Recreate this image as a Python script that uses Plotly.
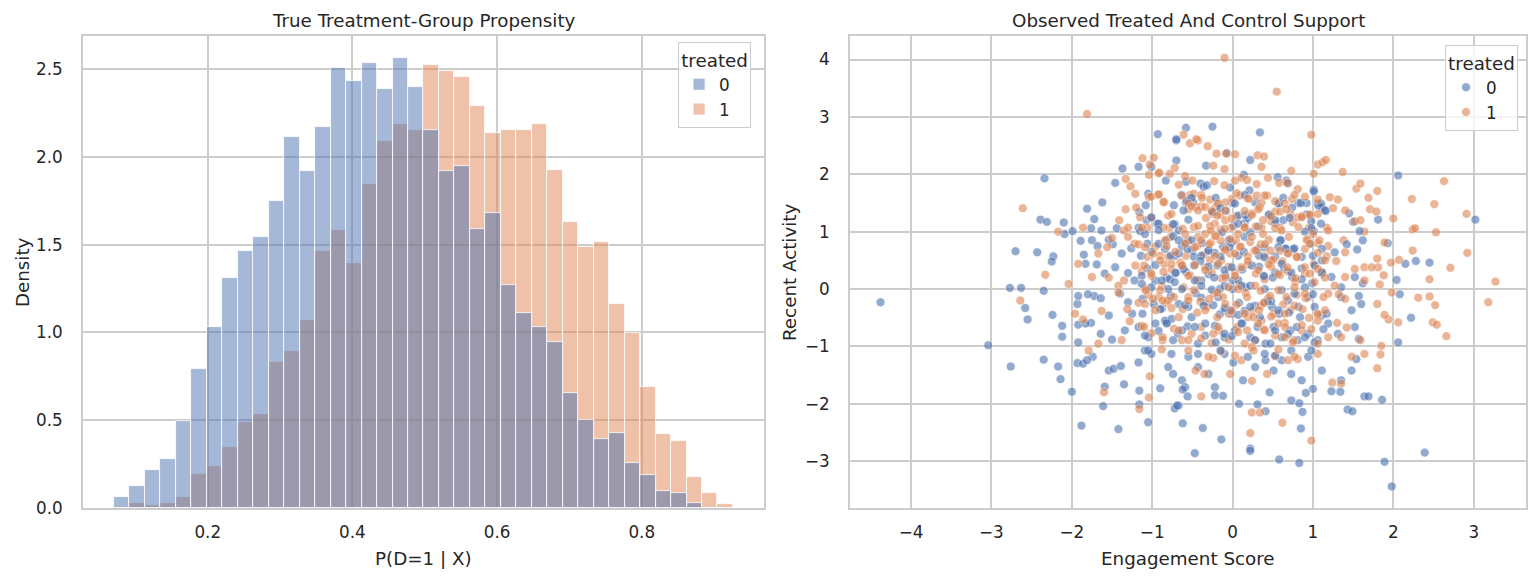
import numpy as np
import plotly.graph_objects as go

# histogram: 40 shared bins, density per bin
bin_lo, bin_hi, n_bins = 0.0704, 0.926, 40
dens_control = [0.061, 0.128, 0.219, 0.277, 0.496, 0.792, 1.029, 1.313, 1.462, 1.542,
                1.748, 2.115, 1.920, 2.172, 2.504, 2.435, 2.538, 2.389, 2.561, 2.401,
                2.155, 1.922, 1.947, 1.592, 1.683, 1.271, 1.111, 1.031, 0.945, 0.658,
                0.500, 0.395, 0.429, 0.258, 0.189, 0.095, 0.086, 0.029, 0.0, 0.0]
dens_treated = [0.0, 0.027, 0.015, 0.027, 0.061, 0.193, 0.242, 0.347, 0.490, 0.534,
                0.834, 0.895, 1.073, 1.464, 1.582, 1.395, 1.845, 2.092, 2.189, 2.156,
                2.523, 2.487, 2.458, 2.292, 2.137, 2.155, 2.155, 2.189, 1.926, 1.628,
                1.487, 1.513, 1.164, 0.998, 0.689, 0.420, 0.380, 0.179, 0.088, 0.025]

# scatter: (engagement score, recent activity), treated = 0
control_pts = [
    (-0.70, 2.59), (-0.07, 2.37), (0.22, 2.25), (-0.33, 2.15), (-0.70, 2.24), (-1.37, 2.10), (-1.17, 2.13),
    (-1.01, 2.13), (0.14, 1.99), (-1.46, 1.85), (-0.83, 1.89), (-0.58, 1.87), (-0.40, 1.84), (-0.36, 1.78),
    (-0.32, 1.81), (-0.03, 1.77), (0.21, 1.72), (0.00, 1.50), (0.28, 1.51), (0.56, 1.95), (0.67, 1.89),
    (0.69, 1.84), (1.01, 1.73), (0.82, 1.50), (0.92, 1.50), (1.06, 1.49), (1.11, 1.42), (0.58, 1.50),
    (-1.05, 1.66), (-0.64, 1.64), (-0.58, 1.51), (-0.49, 1.51), (-1.62, 1.51), (-0.73, 1.46),
    (-1.72, 1.22), (-1.76, 1.06), (-1.63, 1.02), (-1.44, 1.06), (-1.16, 1.34), (-1.07, 1.20), (-0.94, 1.14),
    (-0.72, 1.13), (-0.67, 1.02), (-0.55, 1.21), (-0.23, 1.34), (-0.08, 1.36), (0.01, 1.10), (0.15, 1.15),
    (0.19, 1.24), (0.32, 1.09), (0.46, 1.30), (0.53, 1.15), (0.63, 1.20), (0.74, 1.42), (0.92, 1.30),
    (1.01, 1.01), (1.07, 1.45), (1.16, 1.36), (1.45, 1.32), (1.50, 1.17), (1.62, 0.85), (-1.17, 1.07),
    (-1.49, 0.78), (-1.75, 0.85), (-1.68, 0.75), (-1.54, 0.86), (-1.38, 0.62), (-1.26, 0.71), (-1.14, 0.58),
    (-1.06, 0.79), (-0.84, 0.70), (-0.72, 0.58), (-0.63, 0.75), (-0.50, 0.67), (-0.38, 0.80), (-0.30, 0.67),
    (-0.22, 0.63), (-0.12, 0.74), (-0.01, 0.81), (0.15, 0.91), (0.32, 0.70), (0.40, 0.73), (0.53, 0.57),
    (0.59, 0.85), (0.66, 0.71), (0.77, 0.71), (0.86, 0.56), (0.97, 0.79), (1.11, 0.50), (1.27, 0.64),
    (1.42, 0.78), (1.55, 0.69), (-0.05, 0.85), (-0.59, 0.82), (-0.82, 0.85),
    (-1.69, 0.43), (-1.59, 0.27), (-1.46, 0.38), (-1.30, 0.28), (-1.22, 0.15), (-1.06, 0.36), (-0.96, 0.15),
    (-0.82, 0.20), (-0.71, 0.29), (-0.58, 0.30), (-0.48, 0.41), (-0.39, 0.15), (-0.30, 0.26), (-0.19, 0.41),
    (-0.09, 0.24), (0.00, 0.15), (0.12, 0.34), (0.16, 0.03), (0.33, 0.39), (0.39, 0.21), (0.53, 0.29),
    (0.64, 0.35), (0.74, 0.21), (0.86, 0.36), (0.99, 0.10), (1.11, 0.27), (1.23, 0.21), (1.35, 0.03),
    (1.52, 0.21), (1.62, 0.10),
    (-1.72, -0.12), (-1.64, -0.16), (-1.54, -0.46), (-1.40, -0.08), (-1.30, -0.23), (-1.25, -0.43),
    (-1.12, -0.17), (-0.98, -0.26), (-0.88, -0.34), (-0.77, -0.12), (-0.67, -0.26), (-0.55, -0.31),
    (-0.46, -0.07), (-0.39, -0.15), (-0.34, -0.26), (-0.18, -0.14), (-0.09, -0.36), (-0.01, -0.43),
    (0.08, -0.24), (0.15, -0.38), (0.28, -0.29), (0.40, -0.23), (0.49, -0.31), (0.58, -0.43), (0.69, -0.20),
    (0.82, -0.31), (0.94, -0.14), (1.11, -0.46), (1.17, -0.43), (1.35, -0.14), (1.48, -0.37), (1.60, -0.26),
    (1.57, -0.12),
    (-1.76, -0.59), (-1.64, -0.78), (-1.50, -0.88), (-1.34, -0.72), (-1.17, -0.66), (-1.05, -0.84),
    (-0.92, -0.73), (-0.82, -0.58), (-0.68, -0.78), (-0.56, -0.65), (-0.43, -0.95), (-0.34, -0.81),
    (-0.22, -0.64), (-0.10, -0.84), (0.03, -0.72), (0.12, -0.60), (0.22, -0.84), (0.31, -0.66), (0.41, -0.95),
    (0.51, -0.66), (0.61, -0.84), (0.72, -0.72), (0.81, -0.89), (0.94, -0.78), (1.06, -0.89), (1.19, -0.60),
    (1.31, -0.78), (1.52, -0.66), (1.57, -0.87),
    (-1.74, -1.18), (-1.54, -1.42), (-1.48, -1.39), (-1.39, -1.34), (-1.17, -1.28), (-1.09, -1.07),
    (-1.01, -1.13), (-0.80, -1.36), (-0.74, -1.48), (-0.63, -1.59), (-0.59, -1.71), (-0.55, -1.18),
    (-0.43, -1.36), (-0.30, -1.48), (-0.22, -1.71), (-0.10, -1.13), (0.01, -1.28), (0.13, -1.59),
    (0.28, -1.36), (0.41, -1.24), (0.51, -1.42), (0.61, -1.24), (0.73, -1.48), (0.86, -1.59), (0.94, -1.18),
    (1.11, -1.42), (1.35, -1.59), (1.48, -1.42), (1.54, -1.22),
    (-0.93, 2.70), (-0.70, 2.61), (-0.58, 2.81), (-2.34, 1.93), (-2.39, 1.21), (-2.31, 1.17), (-2.10, 1.16),
    (-2.09, 0.96), (-1.99, 1.01), (-2.70, 0.66), (-2.43, 0.64), (-2.23, 0.57), (-2.25, 0.48), (-1.89, 0.84),
    (-1.85, 0.60), (-1.81, 1.40), (-1.83, 0.44),
    (-0.25, 2.83), (0.34, 2.73), (2.06, 1.98), (3.02, 1.21), (1.81, 1.21), (1.58, 1.01), (1.93, 0.80),
    (2.15, 0.44), (2.28, 0.49), (2.45, 0.46),
    (2.06, -0.93), (2.22, -0.50), (2.08, -0.09), (2.04, 0.16), (1.86, -1.93), (1.64, -1.87), (1.69, -1.87),
    (1.43, -2.10), (1.49, -2.13), (2.39, -2.85), (1.89, -3.01), (1.98, -3.44), (0.58, -2.97), (0.83, -3.03),
    (0.22, -2.78), (0.22, -2.82), (-0.47, -2.86), (-0.14, -2.62), (-0.37, -2.42), (-0.62, -2.34),
    (0.85, -2.43), (0.87, -2.14), (0.83, -1.99), (0.41, -2.13), (0.08, -2.00), (0.31, -2.01), (-0.67, -2.03),
    (-0.56, -1.87), (1.00, -1.74), (0.91, -1.81), (0.73, -1.94), (1.34, -1.79), (1.23, -1.78),
    (-0.12, -1.86), (-0.22, -1.85), (0.46, -1.80),
    (-4.38, -0.23), (-3.04, -0.98), (-2.77, 0.02), (-2.63, 0.02), (-2.35, -0.03), (-2.58, -0.33),
    (-2.55, -0.53), (-2.24, -0.45), (-2.12, -0.64), (-2.12, -0.83), (-2.76, -1.35), (-2.35, -1.23),
    (-2.17, -1.35), (-2.14, -1.57), (-2.00, -1.79), (-1.93, -1.29), (-1.86, -1.30), (-1.81, -1.24),
    (-1.92, -0.93), (-1.92, -0.62), (-1.83, -0.60), (-1.93, -0.26), (-1.92, -0.12), (-1.80, -0.09),
    (-1.88, -2.38), (-1.42, -2.44), (-1.61, -2.04), (-1.59, -1.70), (-1.35, -1.66), (-1.16, -1.77),
    (-1.16, -2.01), (-1.05, -2.32), (-0.90, -1.73), (-0.72, -2.08), (-0.69, -2.03), (-0.62, -1.75),
]

# extra control points in the crowded middle of the cloud
control_core = [
    (-0.57, 1.54), (-0.51, 1.59), (-0.21, 1.59), (0.03, 1.49), (0.15, 1.64), (0.57, 1.49), (0.63, 1.59),
    (0.85, 1.50), (1.01, 1.70), (1.10, 1.49), (-1.08, 1.46), (-1.01, 1.25), (-0.92, 1.14), (-0.74, 1.13),
    (-0.61, 1.37), (-0.25, 1.34), (-0.15, 1.41), (0.07, 1.28), (0.16, 1.29), (0.45, 1.29), (0.53, 1.20),
    (0.71, 1.24), (0.98, 1.18), (1.10, 1.14), (1.15, 1.37), (-1.15, 1.01), (-1.09, 0.96), (-0.92, 1.03),
    (-0.74, 0.92), (-0.67, 0.85), (-0.51, 0.85), (-0.13, 0.99), (0.07, 1.14), (0.22, 0.99), (0.60, 0.85),
    (0.76, 0.70), (0.90, 1.00), (0.98, 1.06), (-1.01, 0.65), (-0.92, 0.79), (-0.77, 0.58), (-0.67, 0.62),
    (-0.56, 0.70), (-0.48, 0.56), (-0.39, 0.58), (-0.30, 0.67), (-0.15, 0.56), (-0.04, 0.73), (0.07, 0.58),
    (0.14, 0.65), (0.33, 0.58), (0.40, 0.55), (0.57, 0.73), (0.66, 0.70), (1.00, 0.58), (1.11, 0.70),
    (-1.13, 0.23), (-0.96, 0.42), (-0.88, 0.15), (-0.78, 0.17), (-0.71, 0.28), (-0.61, 0.35), (-0.40, 0.49),
    (-0.30, 0.39), (-0.23, 0.20), (-0.10, 0.33), (-0.01, 0.38), (0.07, 0.16), (0.24, 0.41), (0.39, 0.23),
    (0.50, 0.20), (0.61, 0.44), (0.73, 0.29), (0.86, 0.17), (1.02, 0.41), (1.11, 0.29),
    (-1.13, 0.09), (-1.01, 0.03), (-0.80, 0.00), (-0.72, 0.12), (-0.63, 0.00), (-0.47, 0.15), (-0.39, 0.06),
    (-0.26, -0.01), (-0.16, 0.00), (-0.10, 0.06), (0.00, 0.00), (0.11, 0.06), (0.22, 0.06), (0.40, 0.00),
    (0.48, -0.21), (0.61, -0.02), (0.77, -0.08), (0.90, 0.03), (1.00, -0.09),
    (-1.12, -0.43), (-0.90, -0.35), (-0.84, -0.55), (-0.76, -0.52), (-0.59, -0.28), (-0.51, -0.49),
    (-0.36, -0.29), (-0.24, -0.28), (-0.16, -0.44), (-0.10, -0.33), (-0.03, -0.37), (0.07, -0.45),
    (0.22, -0.31), (0.34, -0.49), (0.44, -0.21), (0.57, -0.37), (0.70, -0.41), (0.84, -0.49), (1.02, -0.31),
    (-1.09, -0.81), (-0.96, -0.60), (-0.82, -0.60), (-0.74, -0.89), (-0.63, -0.72), (-0.47, -0.66),
    (-0.34, -0.60), (-0.21, -0.93), (-0.10, -0.78), (-0.01, -0.82), (0.11, -0.60), (0.28, -0.89),
    (0.47, -0.95), (0.53, -0.72), (0.69, -0.78), (0.80, -0.66), (0.90, -0.84), (1.02, -0.93), (1.13, -0.70),
    (-1.05, -1.07), (-0.76, -1.13), (-0.43, -1.13), (-0.15, -1.07), (0.19, -1.18), (0.40, -1.13),
    (0.53, -1.16), (0.73, -1.07), (0.98, -1.07),
]

# treated = 1
treated_pts = [
    (-0.53, 2.54), (-0.43, 2.59), (-0.31, 2.49), (-0.20, 2.36), (-0.08, 2.36), (0.03, 2.35), (0.31, 2.33),
    (0.39, 2.31), (0.36, 2.13), (1.06, 2.17), (1.12, 2.21), (1.16, 2.25), (1.37, 2.04), (-0.98, 2.29),
    (-1.12, 2.28), (-1.03, 2.17), (-0.91, 2.03), (-0.72, 2.11), (-0.24, 2.15), (-0.10, 2.09),
    (-1.33, 1.92), (-1.27, 1.79), (-1.21, 1.66), (-1.04, 1.99), (-0.92, 2.02), (-0.78, 2.01), (-0.67, 1.82),
    (-0.59, 1.97), (-0.50, 1.89), (-0.23, 1.88), (-0.10, 1.81), (0.03, 1.89), (0.11, 1.94), (0.18, 1.90),
    (0.30, 1.83), (0.44, 1.94), (0.58, 1.85), (0.68, 1.85), (0.73, 2.06), (0.81, 1.74), (1.01, 2.01),
    (1.21, 1.60), (1.31, 1.56), (1.54, 1.75), (-1.04, 1.60), (-0.92, 1.65), (-0.85, 1.51), (-0.53, 1.64),
    (-0.48, 1.66), (-0.39, 1.64), (-0.28, 1.56), (-0.18, 1.50), (-0.01, 1.57), (0.09, 1.63), (0.21, 1.57),
    (0.36, 1.51), (0.43, 1.63), (0.74, 1.57),
    (-1.41, 1.20), (-1.33, 1.39), (-1.35, 1.02), (-1.20, 1.42), (-1.01, 1.24), (-0.80, 1.28), (-0.78, 1.07),
    (-0.55, 1.39), (-0.46, 1.43), (-0.39, 1.44), (-0.33, 1.24), (-0.25, 1.31), (-0.21, 1.43), (-0.15, 1.30),
    (-0.22, 1.14), (-0.09, 1.20), (0.05, 1.27), (0.24, 1.32), (0.34, 1.43), (0.48, 1.18), (0.53, 1.35),
    (0.59, 1.07), (0.72, 1.30), (0.75, 1.16), (0.81, 1.25), (0.86, 1.27), (0.97, 1.28), (1.25, 1.41),
    (1.40, 1.37), (1.52, 1.18), (1.64, 1.00), (1.38, 0.85), (1.17, 1.07), (0.95, 1.07), (0.36, 1.07),
    (0.15, 1.08), (-0.02, 1.07), (-0.15, 1.03), (-0.28, 1.10), (-0.48, 1.08), (-0.62, 1.05), (-0.86, 1.07),
    (-1.06, 1.07), (-1.30, 1.07), (-1.50, 0.89), (-1.15, 1.25),
    (-1.67, 0.62), (-1.56, 0.73), (-1.30, 0.91), (-1.22, 0.79), (-0.96, 0.74), (-0.90, 0.58), (-0.77, 0.91),
    (-0.65, 0.46), (-0.55, 0.85), (-0.44, 0.75), (-0.36, 0.60), (-0.27, 0.81), (-0.22, 0.94), (-0.15, 0.85),
    (-0.10, 0.67), (-0.03, 0.62), (0.04, 0.85), (0.09, 0.73), (0.22, 0.82), (0.27, 0.67), (0.35, 0.78),
    (0.39, 0.58), (0.47, 0.67), (0.51, 0.51), (0.62, 0.48), (0.69, 0.63), (0.80, 0.56), (0.94, 0.85),
    (1.06, 0.80), (1.19, 0.75), (1.17, 0.57), (1.29, 0.49), (1.40, 0.64), (1.52, 0.35), (1.64, 0.38),
    (-0.14, 0.50), (-0.28, 0.51), (-0.43, 0.91), (-0.58, 0.58), (-0.80, 0.56), (-1.06, 0.56), (-1.17, 0.78),
    (-1.75, 0.21), (-1.54, 0.20), (-1.35, 0.15), (-1.21, 0.41), (-1.13, 0.31), (-1.01, 0.23), (-0.85, 0.43),
    (-0.76, 0.34), (-0.63, 0.41), (-0.53, 0.24), (-0.44, 0.16), (-0.34, 0.38), (-0.26, 0.29), (-0.14, 0.19),
    (-0.05, 0.39), (0.03, 0.29), (0.08, 0.08), (0.19, 0.43), (0.29, 0.27), (0.40, 0.17), (0.48, 0.39),
    (0.59, 0.24), (0.69, 0.31), (0.78, 0.13), (0.90, 0.27), (1.01, 0.44), (1.11, 0.29), (1.27, 0.06),
    (1.40, 0.21), (1.64, 0.15), (-0.61, 0.03), (-0.88, 0.06), (-1.09, 0.01), (-1.42, 0.06),
    (-1.63, -0.38), (-1.42, -0.06), (-1.31, -0.35), (-1.17, -0.24), (-1.05, -0.10), (-0.92, -0.14),
    (-0.83, -0.24), (-0.73, -0.14), (-0.62, -0.35), (-0.55, -0.14), (-0.40, -0.22), (-0.32, -0.31),
    (-0.23, -0.08), (-0.12, -0.14), (-0.05, -0.43), (0.05, -0.27), (0.16, -0.06), (0.24, -0.38),
    (0.35, -0.29), (0.44, -0.16), (0.51, -0.43), (0.63, -0.27), (0.72, -0.37), (0.80, -0.10), (0.91, -0.16),
    (1.06, -0.45), (1.19, -0.08), (1.32, -0.09), (1.40, -0.17), (1.30, -0.59), (1.42, -0.67), (0.19, -0.49),
    (0.36, -0.55), (0.65, -0.59),
    (-1.67, -0.95), (-1.38, -0.89), (-1.28, -0.56), (-1.13, -0.64), (-1.01, -0.77), (-0.87, -0.89),
    (-0.73, -0.69), (-0.63, -0.89), (-0.51, -0.78), (-0.39, -0.66), (-0.26, -0.94), (-0.17, -0.72),
    (-0.05, -0.88), (0.06, -0.66), (0.15, -0.95), (0.28, -0.89), (0.39, -0.70), (0.53, -0.81), (0.65, -0.66),
    (0.76, -0.89), (0.86, -0.72), (1.06, -0.55), (1.19, -0.84), (1.35, -0.84), (1.59, -0.89),
    (-1.79, -1.07), (-1.03, -1.52), (-0.46, -1.42), (-0.35, -1.48), (-0.24, -1.20), (-0.14, -1.09),
    (-0.03, -1.48), (0.11, -1.24), (0.24, -1.60), (0.43, -1.48), (0.53, -1.17), (0.69, -1.24), (0.81, -1.22),
    (1.06, -1.13), (1.24, -1.63), (1.35, -1.65), (1.48, -1.18), (1.64, -1.13),
    (-1.81, 3.05), (-2.61, 1.41), (-2.17, 1.00), (-1.86, 1.07), (-0.61, 2.69), (-1.92, 0.44),
    (-0.10, 4.03), (0.55, 3.44), (-0.45, 2.61), (0.98, 2.69), (1.59, 1.84), (1.80, 1.71), (2.63, 1.88),
    (2.23, 1.57), (2.51, 1.48), (2.91, 1.31), (1.69, 1.59), (1.71, 1.39), (1.79, 1.35), (2.00, 1.23),
    (2.24, 1.04), (2.27, 1.06), (2.53, 0.99), (1.89, 0.81), (1.80, 0.53), (1.97, 0.46), (2.07, 0.51),
    (2.24, 0.67), (2.92, 0.63), (2.71, 0.37), (1.59, 1.20),
    (3.27, 0.13), (3.18, -0.23), (2.45, 0.17), (2.31, -0.15), (2.45, -0.13), (2.52, -0.28), (2.49, -0.58),
    (2.54, -0.62), (2.66, -0.82), (1.98, -0.06), (2.06, -0.58), (1.94, -0.53), (1.89, -0.45), (1.80, -0.26),
    (1.83, 0.08), (1.88, 0.24), (1.81, 0.38), (1.73, 0.38), (1.85, -0.99), (1.84, -1.14), (1.80, -1.38),
    (0.24, -2.15), (0.34, -2.15), (0.22, -2.51), (0.62, -2.33), (0.98, -2.64), (-0.39, -1.87),
    (-2.33, 0.25), (-2.04, 0.09), (-2.64, -0.20), (-1.60, -1.80), (-1.16, -2.09), (-1.04, -1.89),
    (-1.96, -0.43), (-1.86, -0.53),
]

# extra treated points in the crowded middle of the cloud
treated_core = [
    (-1.01, 1.61), (-0.92, 1.65), (-0.86, 1.52), (-0.63, 1.63), (-0.55, 1.49), (-0.38, 1.59), (-0.18, 1.49),
    (-0.09, 1.51), (0.05, 1.67), (0.19, 1.58), (0.30, 1.63), (0.40, 1.63), (0.53, 1.53), (0.65, 1.49),
    (0.77, 1.64), (0.90, 1.61), (1.06, 1.56), (-0.76, 1.31), (-0.51, 1.44), (-0.43, 1.37), (-0.34, 1.43),
    (-0.26, 1.36), (-0.19, 1.28), (-0.09, 1.37), (-0.01, 1.23), (0.15, 1.36), (0.24, 1.29), (0.32, 1.39),
    (0.38, 1.20), (0.48, 1.27), (0.59, 1.35), (0.67, 1.39), (0.86, 1.25), (0.96, 1.30), (1.06, 1.31),
    (-1.13, 1.07), (-0.84, 0.85), (-0.59, 0.96), (-0.43, 1.10), (-0.34, 0.96), (-0.27, 1.02), (-0.21, 0.92),
    (-0.10, 1.05), (-0.03, 0.87), (0.07, 0.96), (0.15, 1.07), (0.24, 0.91), (0.29, 1.09), (0.38, 0.96),
    (0.45, 0.86), (0.53, 1.06), (0.61, 1.02), (0.70, 0.91), (0.82, 1.08), (0.92, 0.86), (1.00, 0.96),
    (1.08, 0.85), (1.19, 1.02),
    (-1.09, 0.73), (-0.99, 0.62), (-0.90, 0.50), (-0.82, 0.75), (-0.71, 0.65), (-0.59, 0.79), (-0.47, 0.73),
    (-0.39, 0.85), (-0.29, 0.78), (-0.22, 0.58), (-0.09, 0.69), (0.03, 0.62), (0.10, 0.74), (0.19, 0.57),
    (0.29, 0.67), (0.40, 0.78), (0.48, 0.50), (0.59, 0.67), (0.69, 0.62), (0.80, 0.56), (0.90, 0.70),
    (0.96, 0.79), (1.06, 0.63), (1.15, 0.50),
    (-1.10, 0.41), (-1.01, 0.27), (-0.86, 0.30), (-0.76, 0.44), (-0.63, 0.41), (-0.55, 0.23), (-0.47, 0.42),
    (-0.34, 0.33), (-0.18, 0.44), (-0.09, 0.20), (0.03, 0.23), (0.11, 0.38), (0.19, 0.49), (0.32, 0.33),
    (0.45, 0.43), (0.57, 0.26), (0.68, 0.38), (0.78, 0.19), (0.90, 0.38), (0.96, 0.27), (1.06, 0.35),
    (1.15, 0.20),
    (-1.08, -0.02), (-0.99, -0.17), (-0.90, -0.02), (-0.80, -0.20), (-0.55, -0.20), (-0.48, -0.02),
    (-0.29, -0.17), (-0.19, -0.06), (-0.05, 0.03), (0.07, 0.00), (0.18, -0.14), (0.28, 0.06), (0.35, -0.03),
    (0.47, -0.12), (0.57, -0.02), (0.67, -0.14), (0.77, 0.03), (0.90, -0.08), (1.02, 0.12), (1.13, -0.14),
    (-1.09, -0.26), (-0.96, -0.37), (-0.87, -0.20), (-0.76, -0.33), (-0.67, -0.49), (-0.44, -0.41),
    (-0.34, -0.37), (-0.19, -0.49), (-0.09, -0.26), (-0.01, -0.38), (0.15, -0.43), (0.26, -0.49),
    (0.33, -0.37), (0.39, -0.24), (0.48, -0.48), (0.65, -0.43), (0.77, -0.29), (0.87, -0.35), (0.95, -0.50),
    (1.06, -0.43), (1.15, -0.37),
    (-1.10, -0.66), (-0.87, -0.84), (-0.67, -0.72), (-0.55, -0.89), (-0.39, -0.86), (-0.24, -0.78),
    (-0.18, -0.66), (0.07, -0.75), (0.18, -0.72), (0.24, -1.01), (0.32, -0.60), (0.40, -0.72), (0.57, -0.60),
    (0.65, -0.84), (0.75, -0.93), (0.86, -0.63), (0.98, -0.70), (1.06, -0.95),
    (-0.88, -1.05), (-0.55, -1.07), (-0.30, -1.18), (0.03, -1.16), (0.26, -1.07), (0.57, -1.05), (0.77, -1.18),
]

hist_ticks = [0.2, 0.4, 0.6, 0.8]
dens_ticks = [0.0, 0.5, 1.0, 1.5, 2.0, 2.5]
eng_ticks = [-4, -3, -2, -1, 0, 1, 2, 3]
act_ticks = [-3, -2, -1, 0, 1, 2, 3, 4]

BLUE = (76, 114, 176)
ORANGE = (221, 132, 82)
TXT = '#262626'
GRID = '#cccccc'
FONT = 'DejaVu Sans'


def rgba(c, a):
    return 'rgba(%d,%d,%d,%s)' % (c[0], c[1], c[2], a)


def minus(v):
    return str(v).replace('-', '\u2212')


edges = np.linspace(bin_lo, bin_hi, n_bins + 1)
centers = (edges[:-1] + edges[1:]) / 2
bw = edges[1] - edges[0]

fig = go.Figure()

# treated drawn first so the control layer sits on top (seaborn order)
fig.add_trace(go.Bar(x=centers, y=dens_treated, width=bw, name='1', legendrank=2,
                     marker=dict(color=rgba(ORANGE, 0.5), line=dict(color='white', width=0.8)),
                     xaxis='x', yaxis='y', legend='legend'))
fig.add_trace(go.Bar(x=centers, y=dens_control, width=bw, name='0', legendrank=1,
                     marker=dict(color=rgba(BLUE, 0.5), line=dict(color='white', width=0.8)),
                     xaxis='x', yaxis='y', legend='legend'))

# mix the two groups so neither is always drawn on top
grp0 = control_pts + control_core
grp1 = treated_pts + treated_core
sx, sy, sc = [], [], []
for i in range(max(len(grp0), len(grp1))):
    if i < len(grp0):
        sx.append(grp0[i][0]); sy.append(grp0[i][1]); sc.append(rgba(BLUE, 1))
    if i < len(grp1):
        sx.append(grp1[i][0]); sy.append(grp1[i][1]); sc.append(rgba(ORANGE, 1))

fig.add_trace(go.Scatter(x=sx, y=sy, mode='markers', showlegend=False, xaxis='x2', yaxis='y2',
                         marker=dict(size=9, color=sc, opacity=0.6, line=dict(color='white', width=0.7))))
for nm, col in [('0', BLUE), ('1', ORANGE)]:
    fig.add_trace(go.Scatter(x=[None], y=[None], mode='markers', name=nm, xaxis='x2', yaxis='y2',
                             legend='legend2',
                             marker=dict(size=9, color=rgba(col, 1), opacity=0.6,
                                         line=dict(color='white', width=0.7))))

L, R, T, B = 83, 12, 36, 72
W, H = 1540 - L - R, 580 - T - B


def fx(px):
    return (px - L) / W


def fy(py):
    return (580 - B - py) / H


ax = dict(showgrid=True, gridcolor=GRID, gridwidth=1.5, zeroline=False, showline=True, mirror=True,
          linecolor=GRID, linewidth=1.9, ticks='outside', tickcolor='rgba(0,0,0,0)',
          tickfont=dict(size=16.8, color=TXT, family=FONT))

leg = dict(xanchor='right', yanchor='top', bgcolor='rgba(255,255,255,0.8)',
           bordercolor=GRID, borderwidth=1, font=dict(size=16.8, color=TXT, family=FONT),
           title=dict(text='treated', side='top center', font=dict(size=18.3, color=TXT, family=FONT)))

fig.update_layout(
    width=1540, height=580, margin=dict(l=L, r=R, t=T, b=B),
    paper_bgcolor='white', plot_bgcolor='white', barmode='overlay', bargap=0,
    font=dict(family=FONT, color=TXT, size=16.8),
    xaxis=dict(ax, ticklen=8, domain=[0, fx(765)], range=[0.0276, 0.969], tickvals=hist_ticks,
               ticktext=['%.1f' % v for v in hist_ticks], anchor='y'),
    yaxis=dict(ax, ticklen=15, range=[0, 2.689], tickvals=dens_ticks,
               ticktext=['%.1f' % v for v in dens_ticks], anchor='x'),
    xaxis2=dict(ax, ticklen=8, domain=[fx(851), 1], range=[-4.76, 3.65], tickvals=eng_ticks,
                ticktext=[minus(v) for v in eng_ticks], anchor='y2'),
    yaxis2=dict(ax, ticklen=15, range=[-3.815, 4.41], tickvals=act_ticks,
                ticktext=[minus(v) for v in act_ticks], anchor='x2'),
    legend=dict(leg, x=fx(752), y=fy(42)),
    legend2=dict(leg, x=fx(1520), y=fy(45)),
)

ann = dict(xref='paper', yref='paper', showarrow=False, xanchor='center', yanchor='middle',
           font=dict(size=18.3, color=TXT, family=FONT))
fig.add_annotation(ann, text='True Treatment-Group Propensity', x=fx(424), y=fy(20))
fig.add_annotation(ann, text='Observed Treated And Control Support', x=fx(1190), y=fy(20))
fig.add_annotation(ann, text='P(D=1 | X)', x=fx(424), y=fy(558))
fig.add_annotation(ann, text='Engagement Score', x=fx(1190), y=fy(558))
fig.add_annotation(ann, text='Density', x=fx(22), y=fy(272), textangle=-90)
fig.add_annotation(ann, text='Recent Activity', x=fx(790), y=fy(272), textangle=-90)

# browser default body margin would shift the figure by 8px; no modebar over the title
fig.write_html('out.html', config={'displayModeBar': False},
               post_script="document.body.style.margin='0';")
